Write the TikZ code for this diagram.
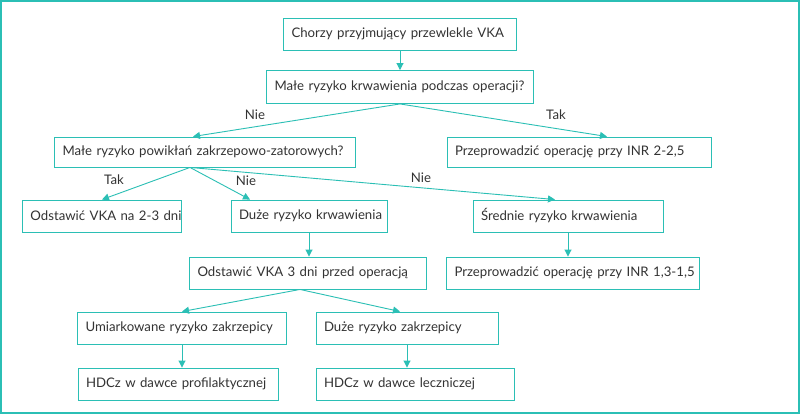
\documentclass[tikz,border=0pt]{standalone}
\usepackage{fontspec}
\setmainfont{Lato}
\usetikzlibrary{arrows.meta}
\definecolor{teal1}{HTML}{2BBFB5}
\definecolor{txt}{HTML}{333333}
\begin{document}
\begin{tikzpicture}[x=1pt,y=-1pt,
 box/.style={draw=teal1,line width=0.9pt,rectangle,inner xsep=8pt,inner ysep=0pt,text=txt,font=\fontsize{13.2}{16}\selectfont,align=left},
 arr/.style={draw=teal1,line width=0.9pt,-{Triangle[length=7pt,width=7pt]}},
 lab/.style={text=txt,font=\fontsize{13.2}{16}\selectfont}]
\draw[teal1,line width=2pt,fill=white] (1,1) rectangle (799,413);
\useasboundingbox (0,0) rectangle (800,414);
\tikzset{bw/.style={text width=#1-16}}
\node[box,bw=233,minimum height=32] (a) at (400,34) {\mbox{Chorzy przyjmujący przewlekle VKA}};
\node[box,bw=267,minimum height=33] (b) at (400,87) {\mbox{Małe ryzyko krwawienia podczas operacji?}};
\node[box,bw=301,minimum height=30] (c) at (205,152) {\mbox{Małe ryzyko powikłań zakrzepowo-zatorowych?}};
\node[box,bw=264,minimum height=30] (d) at (579,152) {\mbox{Przeprowadzić operację przy INR 2-2,5}};
\node[box,bw=159,minimum height=32] (e) at (102,216) {\mbox{Odstawić VKA na 2-3 dni}};
\node[box,bw=156,minimum height=32] (f) at (309,216) {\mbox{Duże ryzyko krwawienia}};
\node[box,bw=190,minimum height=32] (g) at (568,216) {\mbox{Średnie ryzyko krwawienia}};
\node[box,bw=237,minimum height=32] (h) at (308,273) {\mbox{Odstawić VKA 3 dni przed operacją}};
\node[box,bw=253,minimum height=32] (i) at (573,273) {\mbox{Przeprowadzić operację przy INR 1,3-1,5}};
\node[box,bw=209,minimum height=32] (j) at (182,328) {\mbox{Umiarkowane ryzyko zakrzepicy}};
\node[box,bw=182,minimum height=32] (k) at (407,328) {\mbox{Duże ryzyko zakrzepicy}};
\node[box,bw=200,minimum height=32] (l) at (178,384) {\mbox{HDCz w dawce profilaktycznej}};
\node[box,bw=198,minimum height=32] (m) at (415,384) {\mbox{HDCz w dawce leczniczej}};
\draw[arr] (a.south) -- (b.north);
\draw[arr] (b.south) -- (c.north -| 193,0);
\draw[arr] (b.south) -- (d.north -| 607,0);
\draw[arr] (c.south -| 190,0) -- (e.north);
\draw[arr] (c.south -| 190,0) -- (f.north -| 250,0);
\draw[arr] (c.south -| 190,0) -- (g.north -| 555,0);
\draw[arr] (f.south) -- (f.south |- h.north);
\draw[arr] (g.south) -- (g.south |- i.north);
\draw[arr] (h.south -| 300,0) -- (j.north);
\draw[arr] (h.south -| 300,0) -- (k.north -| 400,0);
\draw[arr] (j.south) -- (j.south |- l.north);
\draw[arr] (k.south) -- (k.south |- m.north);
\node[lab] (n1) at (255,115) {Nie};
\node[lab] (n2) at (556,115) {Tak};
\node[lab] (n3) at (114,180) {Tak};
\node[lab] (n4) at (246,181) {Nie};
\node[lab] (n5) at (421,178) {Nie};
\end{tikzpicture}
\end{document}
